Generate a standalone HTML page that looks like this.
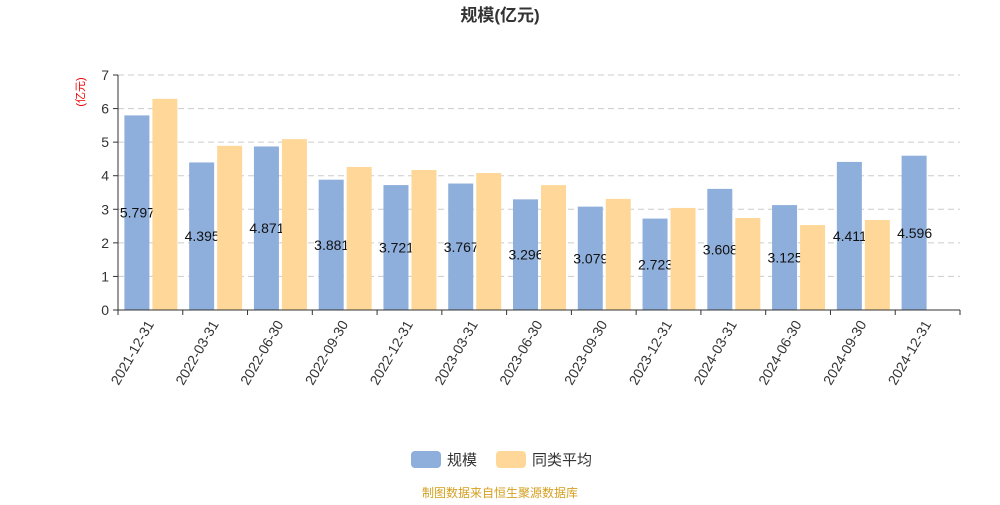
<!DOCTYPE html>
<html><head><meta charset="utf-8"><style>
body{margin:0;background:#fff;font-family:"Liberation Sans","Noto Sans CJK SC",sans-serif;}
</style></head><body>
<svg width="1000" height="500" xmlns="http://www.w3.org/2000/svg" id="chart" font-family="Liberation Sans, Noto Sans CJK SC, sans-serif">
<text x="500" y="21" text-anchor="middle" font-size="17" font-weight="bold" fill="#333">规模(亿元)</text>
<text x="84" y="92" font-size="11" fill="#e00" transform="rotate(-90 84 92)" text-anchor="middle">(亿元)</text>
<g id="grid"></g><g id="bars"></g><g id="axes"></g>
<g>
<rect x="411" y="451" width="30" height="17" rx="4" fill="#8eaedb"/>
<text x="447" y="465" font-size="15" fill="#333">规模</text>
<rect x="496" y="451" width="30" height="17" rx="4" fill="#ffd899"/>
<text x="532" y="465" font-size="15" fill="#333">同类平均</text>
</g>
<text x="500" y="497" text-anchor="middle" font-size="12" fill="#d4a020">制图数据来自恒生聚源数据库</text>
</svg>
<script>
const categories=["2021-12-31","2022-03-31","2022-06-30","2022-09-30","2022-12-31","2023-03-31","2023-06-30","2023-09-30","2023-12-31","2024-03-31","2024-06-30","2024-09-30","2024-12-31"];
const scaleValues=[5.797,4.395,4.871,3.881,3.721,3.767,3.296,3.079,2.723,3.608,3.125,4.411,4.596];
const peerValues=[6.29,4.89,5.09,4.26,4.17,4.08,3.72,3.31,3.04,2.74,2.53,2.68,null];
const yTicks=[0,1,2,3,4,5,6,7];
const NS="http://www.w3.org/2000/svg";
const x0=118,x1=960,yBase=310,yTop=75,yMax=7;
const band=(x1-x0)/categories.length;
const yScale=v=>yBase-(v/yMax)*(yBase-yTop);
const xCenter=i=>x0+band*(i+0.5);
function mk(tag,attrs,parent){const e=document.createElementNS(NS,tag);for(const k in attrs)e.setAttribute(k,attrs[k]);parent.appendChild(e);return e;}
const grid=document.getElementById('grid'),bars=document.getElementById('bars'),axes=document.getElementById('axes');
yTicks.forEach(t=>{
  const y=yScale(t);
  if(t>0){const l=mk('line',{x1:x0,x2:x1,y1:y,y2:y,stroke:'#ccc','stroke-dasharray':'6,4'},grid);
  
  }
  const tk=mk('line',{x1:x0-5,x2:x0,y1:y,y2:y,stroke:'#333'},axes);
  
  
  const tx=mk('text',{x:x0-9,y:y+5,'text-anchor':'end','font-size':14,fill:'#333'},axes);
  tx.textContent=t;
  
  
});
categories.forEach((c,i)=>{
  const cx=xCenter(i);
  const v=scaleValues[i];
  const b=mk('rect',{x:cx-26,y:yScale(v),width:25,height:yBase-yScale(v),fill:'#8eaedb'},bars);
  
  
  const lb=mk('text',{x:cx-13,y:(yScale(v)+yBase)/2+5,'text-anchor':'middle','font-size':14,fill:'#111'},bars);
  lb.textContent=v.toFixed(3);
  
  
  const p=peerValues[i];
  if(p!==null){const yb=mk('rect',{x:cx+2,y:yScale(p),width:25,height:yBase-yScale(p),fill:'#ffd899'},bars);
  
  }
  const tx=x0+band*(i+1);
  const tk=mk('line',{x1:tx,x2:tx,y1:yBase,y2:yBase+5,stroke:'#333'},axes);
  
  
  const t=mk('text',{x:cx+4,y:yBase+14,'text-anchor':'end','font-size':14,fill:'#333',transform:`rotate(-60 ${cx+4} ${yBase+14})`},axes);
  t.textContent=c;
  
  
});
const t0=mk('line',{x1:x0,x2:x0,y1:yBase,y2:yBase+5,stroke:'#333'},axes);


const ya=mk('line',{x1:x0,x2:x0,y1:yTop,y2:yBase,stroke:'#333'},axes);


const xa=mk('line',{x1:x0,x2:x1,y1:yBase,y2:yBase,stroke:'#333'},axes);


</script>
</body></html>
